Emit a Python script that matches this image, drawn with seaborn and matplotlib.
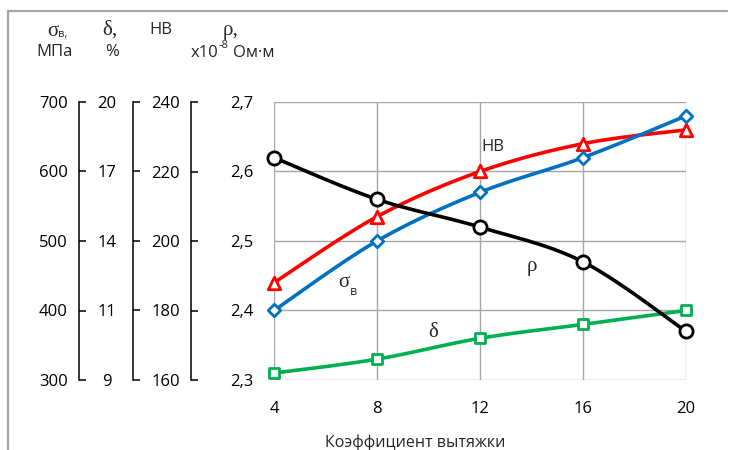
import numpy as np
import pandas as pd
import matplotlib
matplotlib.use("Agg")
import matplotlib.pyplot as plt
from matplotlib.lines import Line2D
from matplotlib.transforms import offset_copy
import seaborn as sns

# --- data -------------------------------------------------------------
draw_ratio = [4, 8, 12, 16, 20]               # коэффициент вытяжки
rho = [2.62, 2.56, 2.52, 2.47, 2.37]          # ρ, x10^-8 Ом·м
sigma_b = [400, 500, 570, 620, 680]           # σв, МПа
hardness = [188, 207, 220, 228, 232]          # НВ
delta = [9.2, 9.6, 10.2, 10.6, 11.0]          # δ, %

rho_ticks = [2.3, 2.4, 2.5, 2.6, 2.7]
rho_ticklabels = ["2,3", "2,4", "2,5", "2,6", "2,7"]
sigma_ticks = [300, 400, 500, 600, 700]
delta_ticks = [9, 11, 14, 17, 20]
hb_ticks = [160, 180, 200, 220, 240]
x_ticks = [4, 8, 12, 16, 20]

# --- helpers ----------------------------------------------------------
def to_rho(values, scale_ticks):
    """Map values from a secondary scale onto the ρ axis."""
    return np.interp(values, scale_ticks, rho_ticks)


def smooth(x, y, n=24):
    """Smoothed path through the points (cubic Bezier, Catmull-Rom tangents)."""
    p = np.column_stack([x, y]).astype(float)
    ext = np.vstack([p[0], p, p[-1]])
    out = []
    for i in range(len(p) - 1):
        p0, p1, p2, p3 = ext[i], ext[i + 1], ext[i + 2], ext[i + 3]
        c1 = p1 + (p2 - p0) / 6.0
        c2 = p2 - (p3 - p1) / 6.0
        t = np.linspace(0, 1, n, endpoint=(i == len(p) - 2))[:, None]
        seg = ((1 - t) ** 3) * p1 + 3 * ((1 - t) ** 2) * t * c1 \
            + 3 * (1 - t) * t ** 2 * c2 + t ** 3 * p2
        out.append(seg)
    out = np.vstack(out)
    return out[:, 0], out[:, 1]


sns.set_theme(style="white")
plt.rcParams["font.family"] = ["Open Sans", "DejaVu Sans"]
SERIF = ["Liberation Serif", "DejaVu Serif"]

W, H = 734, 450
fig = plt.figure(figsize=(W / 100, H / 100), dpi=100)
fig.patch.set_facecolor("white")


def fx(px):
    return px / W


def fy(py):
    return 1 - py / H


top_px, bot_px = 102, 380
left_px, right_px = 274, 686
ax = fig.add_axes([fx(left_px), fy(bot_px), fx(right_px - left_px),
                   (bot_px - top_px) / H])

grid_c = "#A6A6A6"
ax.set_xlim(4, 20)
ax.set_ylim(2.3, 2.7)
ax.set_xticks(x_ticks)
ax.set_yticks(rho_ticks)
ax.set_yticklabels(rho_ticklabels)
ax.grid(True, color=grid_c, linewidth=1.0)
for s in ax.spines.values():
    s.set_visible(False)
ax.tick_params(axis="both", length=0, labelsize=12, colors="black")
ax.tick_params(axis="y", pad=15)
ax.tick_params(axis="x", pad=15)
ax.set_xlabel("Коэффициент вытяжки", fontsize=11.5)
ax.xaxis.set_label_coords((415 - left_px) / (right_px - left_px), -0.195)

series = [
    ("δ", to_rho(delta, delta_ticks), "#00B050", "s", 60),
    ("НВ", to_rho(hardness, hb_ticks), "#FF0000", "^", 80),
    ("σв", to_rho(sigma_b, sigma_ticks), "#0070C0", "D", 40),
    ("ρ", np.array(rho), "#000000", "o", 90),
]
for z, (name, yv, color, marker, size) in enumerate(series):
    xs, ys = smooth(draw_ratio, yv)
    sns.lineplot(x=xs, y=ys, ax=ax, color=color, linewidth=2.6,
                 sort=False, estimator=None, zorder=3 + z)
    sns.scatterplot(x=draw_ratio, y=yv, ax=ax, marker=marker, s=size,
                    facecolor="white", edgecolor=color, linewidth=2.0,
                    zorder=10 + z, clip_on=False)

# curve labels
ax.text(12.5, 2.635, "НВ", fontsize=12, ha="center", va="center")
ax.text(14.0, 2.463, "ρ", fontsize=15, ha="center", va="center", family=SERIF)
ax.text(10.17, 2.368, "δ", fontsize=15, ha="center", va="center", family=SERIF)
ax.text(6.95, 2.44, "σ", fontsize=15, ha="right", va="center", family=SERIF)
ax.text(6.95, 2.44, "в", fontsize=9, ha="left", va="top",
        transform=offset_copy(ax.transData, fig=fig, x=0, y=-2, units="dots"))

# secondary scales on the left
def side_axis(spine_px, lim, ticks, labels=None, pad=8, ha="right"):
    a = fig.add_axes([fx(spine_px), fy(bot_px), 0.0005, (bot_px - top_px) / H])
    a.set_facecolor("none")
    for k in ("top", "right", "bottom"):
        a.spines[k].set_visible(False)
    a.spines["left"].set_color("black")
    a.spines["left"].set_linewidth(1.1)
    a.set_ylim(*lim)
    a.set_yticks(ticks)
    if labels is not None:
        a.set_yticklabels(labels)
    a.set_xticks([])
    a.tick_params(axis="y", direction="in", length=5, width=1.1,
                  labelsize=12, pad=pad, left=True, colors="black")
    for lab in a.get_yticklabels():
        lab.set_ha(ha)
    a.grid(False)
    return a


side_axis(79, (300, 700), sigma_ticks, pad=8)
side_axis(133, (2.3, 2.7), rho_ticks, [str(v) for v in delta_ticks],
          pad=19, ha="center")
side_axis(191, (160, 240), hb_ticks, pad=8)

# headers
def ftext(px, py, s, **kw):
    return fig.text(fx(px), fy(py), s, va="center", **kw)


ftext(53, 31, "σ", fontsize=15, ha="center", family=SERIF)
ftext(58, 35, "в,", fontsize=8, ha="left")
ftext(55, 52, "МПа", fontsize=12, ha="center")
ftext(110, 30, "δ,", fontsize=15, ha="center", family=SERIF)
ftext(112, 52, "%", fontsize=12, ha="center")
ftext(161, 30, "НВ", fontsize=12, ha="center")
ftext(231, 31, "ρ,", fontsize=15, ha="center", family=SERIF)
ftext(218, 53, "x10", fontsize=12, ha="right")
ftext(219, 45, "-8", fontsize=8, ha="left")
ftext(233, 53, "Ом·м", fontsize=12, ha="left")

# outer frame (top and left edges)
fc = "#A6A6A6"
fig.add_artist(Line2D([fx(8), fx(727)], [fy(11), fy(11)], color=fc,
                      linewidth=1.6, transform=fig.transFigure))
fig.add_artist(Line2D([fx(8), fx(8)], [fy(11), 0], color=fc,
                      linewidth=1.6, transform=fig.transFigure))

fig.savefig("out.png", dpi=100)
